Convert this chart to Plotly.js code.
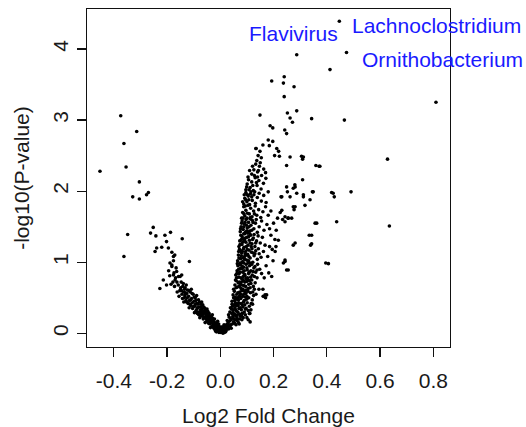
<!DOCTYPE html>
<html>
<head>
<meta charset="utf-8">
<script src="https://cdn.plot.ly/plotly-3.0.1.min.js"></script>
<style>html,body{margin:0;padding:0;background:#fff;}#chart{width:526px;height:427px;}</style>
</head>
<body>
<div id="chart"></div>
<script>
// Tick labels
var xTickVals = [-0.4, -0.2, 0.0, 0.2, 0.4, 0.6, 0.8];
var xTickText = ['-0.4', '-0.2', '0.0', '0.2', '0.4', '0.6', '0.8'];
var yTickVals = [0, 1, 2, 3, 4];
var yTickText = ['0', '1', '2', '3', '4'];

// Labelled taxa: [log2 fold change, -log10 p]
var labelNames = ['Flavivirus', 'Lachnoclostridium', 'Ornithobacterium'];
var labelLFC = [0.287, 0.447, 0.474];
var labelNLP = [3.92, 4.39, 3.95];

// Points, [log2 fold change, -log10(P-value)]
var vertexPts = [[-0.005,0.01],[0.0,0.02],[-0.01,0.03],[0.01,0.0],[-0.015,0.02],[0.004,0.04],[-0.02,0.05],[0.015,0.01],[-0.008,0.06],[0.02,0.02],[0.002,0.01],[0.008,0.03],[0.012,0.02],[0.018,0.05],[0.022,0.04],[0.005,0.06],[0.027,0.08],[0.015,0.09],[0.031,0.06],[0.036,0.1],[0.041,0.07],[0.024,0.12],
[-0.009,0.03],[-0.007,0.07],[-0.004,0.1],[-0.001,0.05],[0.003,0.07],[0.007,0.09],[0.011,0.06],[0.014,0.12],[0.019,0.09],[0.023,0.07],[0.026,0.13],[0.03,0.1]];

var leftArmPts = [[-0.158,0.68],[-0.152,0.6],[-0.147,0.72],[-0.144,0.55],[-0.149,0.64],[-0.162,0.58],[-0.141,0.66],[-0.155,0.52],
[-0.138,0.58],[-0.135,0.5],[-0.132,0.64],[-0.129,0.46],[-0.126,0.56],[-0.123,0.61],[-0.121,0.42],[-0.137,0.44],[-0.128,0.68],[-0.133,0.53],
[-0.119,0.52],[-0.116,0.46],[-0.113,0.58],[-0.111,0.39],[-0.108,0.49],[-0.105,0.43],[-0.102,0.55],[-0.117,0.36],[-0.109,0.62],[-0.104,0.35],[-0.114,0.41],
[-0.099,0.45],[-0.096,0.38],[-0.094,0.5],[-0.091,0.32],[-0.088,0.42],[-0.085,0.36],[-0.082,0.47],[-0.097,0.29],[-0.089,0.53],[-0.083,0.3],[-0.093,0.41],[-0.086,0.28],
[-0.079,0.37],[-0.076,0.3],[-0.073,0.41],[-0.071,0.25],[-0.068,0.34],[-0.065,0.28],[-0.062,0.37],[-0.077,0.22],[-0.07,0.44],[-0.064,0.2],[-0.074,0.33],[-0.067,0.24],
[-0.059,0.29],[-0.056,0.22],[-0.053,0.32],[-0.051,0.17],[-0.048,0.26],[-0.045,0.2],[-0.042,0.28],[-0.057,0.15],[-0.05,0.34],[-0.044,0.14],[-0.054,0.24],[-0.047,0.31],
[-0.039,0.21],[-0.036,0.15],[-0.033,0.23],[-0.031,0.1],[-0.028,0.18],[-0.025,0.12],[-0.022,0.2],[-0.037,0.08],[-0.03,0.26],[-0.024,0.07],[-0.034,0.17],[-0.027,0.14],
[-0.019,0.13],[-0.016,0.08],[-0.013,0.15],[-0.011,0.05],[-0.008,0.1],[-0.005,0.04],[-0.003,0.08],[-0.017,0.03],[-0.01,0.17],[-0.002,0.02],[-0.014,0.11],[-0.006,0.13],
[-0.168,0.78],[-0.163,0.72],[-0.172,0.66],[-0.178,0.72],[-0.185,0.69],[-0.157,0.8],[-0.174,0.85],[-0.166,0.92],[-0.19,0.81],[-0.194,0.88],[-0.182,0.96],[-0.176,1.02],[-0.171,1.1],
[-0.146,0.6],[-0.139,0.7],[-0.131,0.57],[-0.124,0.5],[-0.118,0.6],[-0.112,0.47],[-0.106,0.56],[-0.1,0.38],[-0.098,0.51],[-0.092,0.46],[-0.087,0.35],[-0.084,0.41],[-0.081,0.26],[-0.078,0.44],[-0.075,0.27],[-0.072,0.37],[-0.069,0.29],[-0.066,0.4],[-0.063,0.31],[-0.061,0.23],[-0.058,0.35],[-0.055,0.27],[-0.052,0.2],[-0.049,0.29],[-0.046,0.23],[-0.043,0.17],[-0.041,0.25],[-0.038,0.13],[-0.035,0.2],[-0.032,0.15],[-0.029,0.21],[-0.026,0.09],[-0.023,0.16],[-0.021,0.1],[-0.018,0.06],[-0.015,0.12],[-0.012,0.07],[-0.142,0.49],[-0.127,0.44],[-0.134,0.62]];

var rightArmPts = [[0.029,0.14],[0.034,0.17],[0.045,0.13],[0.05,0.16],[0.038,0.21],[0.056,0.19],[0.047,0.24],[0.062,0.22],[0.068,0.15],[0.041,0.19],[0.053,0.27],[0.072,0.2],[0.08,0.24],[0.059,0.12],[0.033,0.23],
[0.036,0.3],[0.042,0.34],[0.048,0.29],[0.055,0.36],[0.061,0.31],[0.067,0.39],[0.073,0.27],[0.079,0.33],[0.085,0.37],[0.09,0.3],[0.097,0.35],[0.052,0.4],[0.064,0.26],[0.083,0.28],[0.105,0.32],[0.046,0.38],[0.07,0.35],[0.092,0.4],[0.058,0.33],[0.111,0.28],
[0.044,0.45],[0.05,0.5],[0.057,0.43],[0.062,0.55],[0.068,0.47],[0.073,0.58],[0.078,0.42],[0.084,0.52],[0.09,0.46],[0.096,0.56],[0.101,0.43],[0.107,0.5],[0.113,0.57],[0.12,0.47],[0.053,0.59],[0.066,0.41],[0.081,0.6],[0.093,0.51],[0.059,0.48],[0.087,0.44],[0.125,0.53],[0.072,0.52],[0.104,0.59],[0.116,0.42],
[0.05,0.62],[0.055,0.68],[0.06,0.74],[0.064,0.65],[0.069,0.79],[0.074,0.7],[0.078,0.63],[0.083,0.76],[0.088,0.67],[0.092,0.72],[0.097,0.61],[0.102,0.78],[0.107,0.69],[0.112,0.64],[0.118,0.75],[0.124,0.66],[0.131,0.71],[0.138,0.78],[0.071,0.66],[0.086,0.8],[0.099,0.73],[0.061,0.78],[0.115,0.7],[0.079,0.72],[0.145,0.62],
[0.058,0.82],[0.063,0.88],[0.066,0.95],[0.071,0.84],[0.075,0.91],[0.079,0.99],[0.084,0.86],[0.088,0.93],[0.093,0.81],[0.097,0.97],[0.101,0.89],[0.106,0.84],[0.11,0.95],[0.115,0.88],[0.12,0.82],[0.126,0.92],[0.133,0.86],[0.14,0.97],[0.148,0.9],[0.155,0.84],[0.076,0.96],[0.09,0.88],[0.104,0.99],[0.118,0.97],[0.069,0.9],[0.083,0.94],[0.128,0.8],[0.138,0.89],
[0.065,1.02],[0.068,1.1],[0.072,1.18],[0.076,1.05],[0.08,1.13],[0.084,1.01],[0.087,1.19],[0.091,1.08],[0.095,1.15],[0.099,1.03],[0.103,1.11],[0.108,1.17],[0.112,1.06],[0.117,1.14],[0.122,1.0],[0.127,1.09],[0.133,1.16],[0.139,1.04],[0.146,1.12],[0.153,1.07],[0.162,1.15],[0.078,1.16],[0.093,1.12],[0.106,1.02],[0.119,1.19],[0.086,1.06],[0.13,1.12],[0.143,1.19],
[0.07,1.22],[0.073,1.3],[0.077,1.38],[0.081,1.25],[0.085,1.33],[0.089,1.21],[0.092,1.4],[0.096,1.28],[0.1,1.35],[0.104,1.24],[0.109,1.31],[0.114,1.38],[0.119,1.26],[0.124,1.34],[0.13,1.22],[0.136,1.3],[0.142,1.37],[0.15,1.27],[0.158,1.35],[0.168,1.24],[0.082,1.36],[0.098,1.22],[0.111,1.4],[0.127,1.39],[0.091,1.31],
[0.075,1.43],[0.078,1.5],[0.082,1.58],[0.086,1.46],[0.09,1.54],[0.094,1.42],[0.097,1.6],[0.101,1.48],[0.106,1.56],[0.11,1.44],[0.115,1.52],[0.12,1.59],[0.126,1.47],[0.132,1.55],[0.139,1.42],[0.146,1.5],[0.155,1.58],[0.164,1.45],[0.175,1.53],[0.088,1.5],[0.103,1.41],[0.118,1.45],[0.185,1.47],
[0.08,1.62],[0.084,1.7],[0.088,1.78],[0.092,1.65],[0.096,1.73],[0.1,1.62],[0.104,1.8],[0.109,1.68],[0.114,1.76],[0.119,1.64],[0.125,1.72],[0.131,1.79],[0.137,1.66],[0.144,1.74],[0.152,1.63],[0.16,1.71],[0.17,1.78],[0.18,1.66],[0.094,1.79],[0.112,1.61],[0.128,1.68],[0.19,1.72],
[0.088,1.82],[0.092,1.9],[0.096,1.98],[0.1,1.85],[0.105,1.93],[0.11,1.81],[0.115,1.99],[0.12,1.87],[0.126,1.95],[0.132,1.83],[0.139,1.91],[0.146,1.97],[0.154,1.86],[0.163,1.94],[0.172,1.84],[0.18,1.99],[0.102,1.95],[0.118,1.92],
[0.096,2.02],[0.101,2.1],[0.106,2.16],[0.112,2.05],[0.118,2.13],[0.124,2.01],[0.131,2.19],[0.138,2.08],[0.145,2.15],[0.153,2.03],[0.162,2.11],[0.171,2.18],[0.108,2.02],[0.14,2.2],
[0.118,2.24],[0.126,2.3],[0.133,2.38],[0.14,2.27],[0.147,2.35],[0.155,2.22],[0.163,2.31],[0.137,2.43],[0.15,2.4],[0.17,2.26],[0.128,2.22],
[0.142,2.5],[0.149,2.56],[0.154,2.47],[0.134,2.6],[0.16,2.65],
[0.16,0.62],[0.165,0.78],[0.172,0.95],[0.178,1.08],[0.185,1.22],[0.19,1.38],[0.2,1.55],[0.195,1.18],[0.205,1.32],[0.21,1.45],[0.182,0.85],[0.198,1.02],[0.215,1.62],[0.225,1.7],[0.17,0.5],
[0.026,0.18],[0.031,0.26],[0.039,0.12],[0.043,0.28],[0.049,0.21],[0.054,0.14],[0.057,0.25],[0.063,0.18],[0.066,0.3],[0.071,0.13],[0.075,0.24],[0.081,0.19],[0.086,0.22],[0.094,0.26],[0.1,0.22],[0.038,0.36],[0.044,0.41],[0.049,0.33],[0.054,0.46],[0.06,0.39],[0.065,0.5],[0.069,0.43],[0.075,0.36],[0.077,0.49],[0.082,0.4],[0.088,0.55],[0.094,0.34],[0.099,0.48],[0.109,0.38],[0.115,0.33],[0.121,0.41],
[0.048,0.54],[0.056,0.51],[0.059,0.64],[0.066,0.57],[0.071,0.72],[0.076,0.55],[0.08,0.68],[0.085,0.62],[0.091,0.59],[0.095,0.66],[0.1,0.52],[0.105,0.63],[0.11,0.74],[0.122,0.58],[0.128,0.62],[0.134,0.55],
[0.057,0.75],[0.062,0.84],[0.067,0.71],[0.073,0.86],[0.077,0.78],[0.082,0.91],[0.087,0.74],[0.091,0.83],[0.096,0.77],[0.1,0.92],[0.105,0.75],[0.109,0.86],[0.114,0.79],[0.123,0.87],[0.13,0.94],
[0.064,0.98],[0.07,1.06],[0.074,0.99],[0.079,1.09],[0.083,1.15],[0.088,0.99],[0.092,1.04],[0.097,1.1],[0.101,1.18],[0.107,1.08],[0.113,0.99],[0.116,1.22],[0.124,1.13],
[0.069,1.15],[0.074,1.25],[0.079,1.32],[0.084,1.28],[0.088,1.4],[0.094,1.34],[0.099,1.44],[0.106,1.36],[0.112,1.27],[0.121,1.32],[0.133,1.27],
[0.076,1.47],[0.08,1.55],[0.085,1.62],[0.089,1.68],[0.093,1.56],[0.098,1.52],[0.102,1.69],[0.108,1.5],[0.113,1.63],[0.123,1.56],[0.135,1.6],
[0.084,1.85],[0.09,1.95],[0.095,1.88],[0.099,2.06],[0.107,1.88],[0.113,1.96],[0.122,2.08],[0.129,1.99],[0.104,2.2],[0.11,2.29],[0.121,2.35],[0.143,2.29],[0.136,2.12]];

var leftOutlierPts = [[-0.452,2.28],[-0.374,3.06],[-0.362,2.67],[-0.354,2.34],[-0.314,2.84],[-0.304,2.13],[-0.329,1.92],[-0.304,1.89],[-0.277,1.95],[-0.270,1.98],[-0.348,1.39],[-0.362,1.08],
[-0.252,1.49],[-0.262,1.41],[-0.242,1.37],[-0.208,1.38],[-0.187,1.42],[-0.143,1.33],[-0.239,1.20],[-0.220,1.21],[-0.202,1.29],[-0.195,1.20],[-0.182,1.14],[-0.245,1.15],[-0.176,1.08],[-0.116,1.01],[-0.189,0.99],[-0.182,0.94],[-0.214,0.75],[-0.227,0.63],[-0.202,0.68],[-0.170,0.75],[-0.164,0.87],[-0.151,0.80],[-0.176,0.82],[-0.145,0.82]];

var rightOutlierPts = [[0.447,4.39],[0.474,3.95],[0.287,3.92],[0.412,3.71],[0.193,3.55],[0.240,3.61],[0.237,3.52],[0.277,3.47],[0.240,3.33],[0.81,3.25],[0.149,3.07],[0.287,3.13],[0.252,3.10],[0.262,3.03],[0.271,2.97],[0.343,3.02],[0.466,3.00],
[0.187,2.92],[0.197,2.89],[0.242,2.86],[0.249,2.81],[0.180,2.72],[0.197,2.70],[0.184,2.64],[0.212,2.60],[0.219,2.56],[0.134,2.60],[0.204,2.50],[0.222,2.49],[0.305,2.49],[0.309,2.45],[0.249,2.36],[0.359,2.36],[0.371,2.35],[0.628,2.45],
[0.309,2.16],[0.280,2.09],[0.274,2.04],[0.252,1.99],[0.346,1.99],[0.418,1.98],[0.428,1.92],[0.491,1.99],[0.337,1.88],[0.312,1.92],[0.262,1.92],[0.228,1.92],[0.274,1.78],[0.277,1.74],[0.243,1.64],[0.255,1.62],[0.234,1.60],[0.356,1.55],[0.437,1.57],[0.635,1.51],
[0.334,1.38],[0.339,1.24],[0.274,1.24],[0.396,0.99],[0.243,1.03],[0.249,0.89],[0.237,0.99],[0.193,0.80],[0.168,0.54],[0.161,0.52],[0.109,0.28],[0.105,0.19],[0.218,1.31],[0.209,1.22],[0.206,1.15],
[0.231,1.92],[0.249,2.06],[0.281,2.06],[0.287,1.97],[0.312,1.95],[0.318,1.80],[0.349,1.99],[0.281,1.78],[0.255,1.62],[0.243,1.57],[0.268,1.62],[0.231,1.73],[0.362,1.55],[0.281,1.27],[0.343,1.38],[0.343,1.26],[0.406,0.98],[0.243,1.01],[0.255,0.89],[0.174,0.54],[0.112,0.16],[0.262,2.48],[0.312,2.48],[0.374,2.35],[0.424,1.97]];

var allPts = [].concat(vertexPts, leftArmPts, rightArmPts, leftOutlierPts, rightOutlierPts);

var trace = {
  type: 'scatter',
  mode: 'markers',
  x: allPts.map(function(p){return p[0];}),
  y: allPts.map(function(p){return p[1];}),
  marker: {color: '#000', size: 3.6, line: {width: 0}},
  hoverinfo: 'x+y'
};

var fontFam = '"Liberation Sans", Arial, sans-serif';
var annPos = [
  {xanchor: 'center', yanchor: 'bottom', xshift: -3, yshift: 8},
  {xanchor: 'left', yanchor: 'middle', xshift: 11, yshift: -4},
  {xanchor: 'left', yanchor: 'middle', xshift: 13, yshift: -7}
];
var annotations = labelNames.map(function(n, i){
  return {
    x: labelLFC[i], y: labelNLP[i], xref: 'x', yref: 'y',
    text: n, showarrow: false,
    xanchor: annPos[i].xanchor, yanchor: annPos[i].yanchor,
    xshift: annPos[i].xshift, yshift: annPos[i].yshift,
    font: {family: fontFam, size: 21, color: '#1a1aff'}
  };
});

var axisCommon = {
  showline: true, mirror: true, linecolor: '#111', linewidth: 1.4,
  ticks: 'outside', ticklen: 9, tickwidth: 1.3, tickcolor: '#111',
  showgrid: false, zeroline: false,
  tickfont: {family: fontFam, size: 21, color: '#1a1a1a'}
};

var layout = {
  width: 526, height: 427,
  margin: {l: 87, r: 76, t: 9, b: 80},
  paper_bgcolor: '#fff', plot_bgcolor: '#fff',
  showlegend: false,
  font: {family: fontFam, color: '#1a1a1a'},
  xaxis: Object.assign({}, axisCommon, {
    range: [-0.5007, 0.8627],
    tickmode: 'array', tickvals: xTickVals, ticktext: xTickText,
    ticklabelstandoff: 5,
    title: {text: 'Log2 Fold Change', font: {family: fontFam, size: 21, color: '#1a1a1a'}, standoff: 20}
  }),
  yaxis: Object.assign({}, axisCommon, {
    range: [-0.193, 4.563],
    tickmode: 'array', tickvals: yTickVals, ticktext: yTickText,
    tickangle: -90,
    title: {text: '-log10(P-value)', font: {family: fontFam, size: 21, color: '#1a1a1a'}, standoff: 14}
  }),
  annotations: annotations
};

Plotly.newPlot('chart', [trace], layout, {displayModeBar: false, staticPlot: true});
</script>
</body>
</html>
